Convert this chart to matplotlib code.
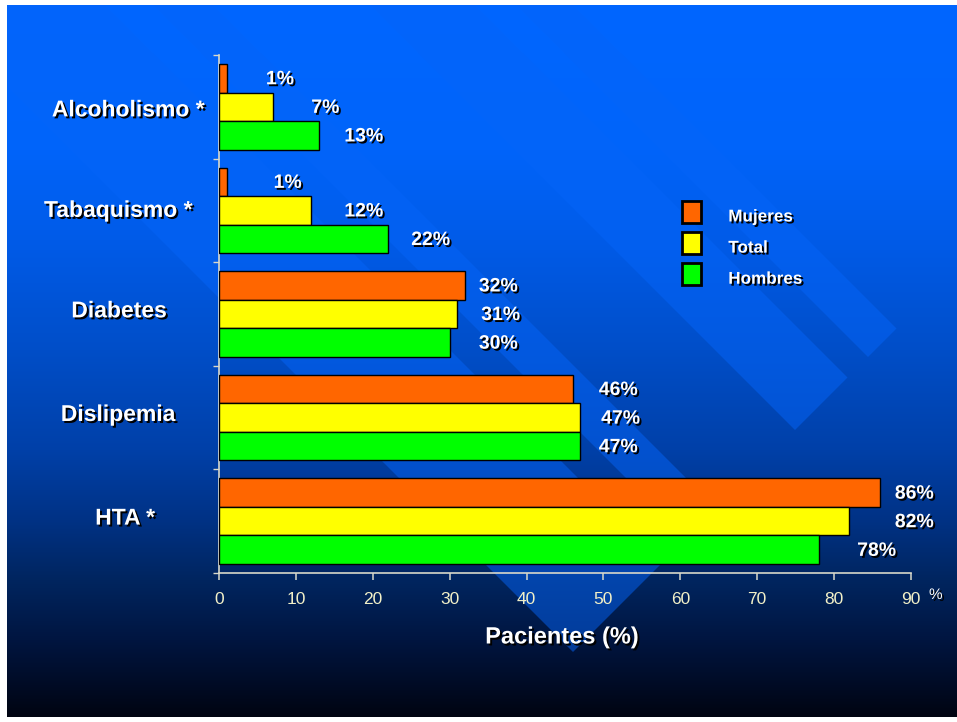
import numpy as np
import matplotlib
matplotlib.use("Agg")
import matplotlib.pyplot as plt
from matplotlib import patheffects as pe
from matplotlib import transforms as mtransforms
from matplotlib import font_manager as fm
from matplotlib.patches import Patch

# ---- data -------------------------------------------------------------
categories = ["Alcoholismo *", "Tabaquismo *", "Diabetes", "Dislipemia", "HTA *"]
series_names = ["Mujeres", "Total", "Hombres"]
mujeres = [1, 1, 32, 46, 86]
total = [7, 12, 31, 47, 82]
hombres = [13, 22, 30, 47, 78]
x_ticks = [0, 10, 20, 30, 40, 50, 60, 70, 80, 90]
x_label = "Pacientes (%)"
unit_label = "%"

# ---- styling ------------------------------------------------------------
bar_colors = ["#FF6600", "#FFFF00", "#00FF00"]
# horizontal gap between bar end and its value label (data units)
label_gap = [
    [5.1, 5.0, 3.3],
    [6.1, 4.3, 3.0],
    [1.8, 3.1, 3.8],
    [3.4, 2.7, 2.4],
    [1.9, 5.9, 5.0],
]
# category name anchors: x in figure pixels, y shift in category units
cat_x_px = [128, 118, 119, 118, 125]
cat_dy = [0.03, 0.0, -0.03, -0.03, -0.03]

plt.rcParams["font.family"] = ["Liberation Sans", "DejaVu Sans"]
available = {f.name for f in fm.fontManager.ttflist}
narrow_family = "Liberation Sans Narrow" if "Liberation Sans Narrow" in available else "Liberation Sans"

W, H, DPI = 957, 722, 100
fig = plt.figure(figsize=(W / DPI, H / DPI), dpi=DPI)
fig.patch.set_facecolor("white")


def hex_rgb(h):
    h = h.lstrip("#")
    return np.array([int(h[i:i + 2], 16) for i in (0, 2, 4)]) / 255.0


# ---- slide background: vertical blue gradient with diagonal bands ------
stops = [(5, "#0066ff"), (150, "#0064fa"), (250, "#005ae6"), (350, "#004ec8"),
         (450, "#0040a8"), (520, "#003285"), (580, "#00255f"), (640, "#001540"),
         (690, "#000a22"), (717, "#000410")]
sy = np.array([s[0] for s in stops], dtype=float)
sc = np.array([hex_rgb(s[1]) for s in stops])
rows = np.arange(H) + 0.5
grad = np.stack([np.interp(rows, sy, sc[:, k]) for k in range(3)], axis=1)

Xg, Yg = np.meshgrid(np.arange(W) + 0.5, np.arange(H) + 0.5)
base = np.repeat(grad[:, None, :], W, axis=1)
diag = Xg - Yg
cap = np.clip(1225 - (Xg + Yg) + 0.5, 0, 1)
band_mask = np.zeros((H, W))
for lo, hi in [(-79, 100), (148, 208), (365, 470), (511, 568)]:
    m = np.clip(diag - lo + 0.5, 0, 1) * np.clip(hi - diag + 0.5, 0, 1)
    band_mask = np.maximum(band_mask, m)
band_mask *= cap
band_col = hex_rgb("#0464f8")
alpha = 0.5 * band_mask[..., None]
base = base * (1 - alpha) + band_col * alpha

img = np.ones((H, W, 3))
img[5:717, 7:] = base[5:717, 7:]

bg = fig.add_axes([0, 0, 1, 1], zorder=0)
bg.imshow(img, extent=(0, W, H, 0), interpolation="nearest", aspect="auto")
bg.set_xlim(0, W)
bg.set_ylim(H, 0)
bg.set_axis_off()

# ---- chart ---------------------------------------------------------------
shadow = [pe.SimplePatchShadow(offset=(1.4, -1.4), shadow_rgbFace="black", alpha=1.0),
          pe.Normal()]
axis_color = "#D8D8CA"
tick_text = "#F2F0C8"

ax = fig.add_axes([219 / W, 1 - 573 / H, 692 / W, 518 / H], zorder=1)
ax.set_facecolor("none")

pos = np.arange(len(categories))
bar_h = 0.276
offsets = [-bar_h, 0.0, bar_h]
series = [mujeres, total, hombres]

for j, (vals, col, name) in enumerate(zip(series, bar_colors, series_names)):
    ax.barh(pos + offsets[j], vals, height=bar_h, color=col,
            edgecolor="black", linewidth=1.0, label=name, zorder=3)
    for i, v in enumerate(vals):
        ax.text(v + label_gap[i][j], pos[i] + offsets[j] + 0.015, f"{v}%",
                ha="left", va="center", fontsize=14, fontweight="bold",
                color="white", path_effects=shadow, clip_on=False, zorder=4)

ax.set_xlim(0, 90)
ax.set_ylim(len(categories) - 0.5, -0.5)

for side in ("top", "right"):
    ax.spines[side].set_visible(False)
for side in ("left", "bottom"):
    ax.spines[side].set_color(axis_color)
    ax.spines[side].set_linewidth(1.2)

ax.set_xticks(x_ticks)
ax.set_xticklabels([str(t) for t in x_ticks], family=narrow_family,
                   fontsize=12.5, color=tick_text)
ax.tick_params(axis="x", direction="out", length=5, width=1.1,
               color=axis_color, pad=9)
ax.set_yticks(np.arange(-0.5, len(categories), 1.0))
ax.set_yticklabels([])
ax.tick_params(axis="y", direction="out", length=4, width=1.0, color=axis_color)

# category names
cat_tr = mtransforms.blended_transform_factory(fig.transFigure, ax.transData)
for i, name in enumerate(categories):
    ax.text(cat_x_px[i] / W, pos[i] + cat_dy[i], name, transform=cat_tr,
            ha="center", va="center", fontsize=16.5, fontweight="bold",
            color="white", path_effects=shadow, clip_on=False)

# axis title and unit
ax.set_xlabel(x_label, fontsize=17, fontweight="bold", color="white",
              path_effects=shadow)
ax.xaxis.set_label_coords((562 - 219) / 692, (573 - 637) / 518)
ax.xaxis.label.set_va("center")
fig.text(929 / W, 1 - 595 / H, unit_label, ha="left", va="center",
         fontsize=11, color="white", path_effects=shadow)

# legend
handles = [Patch(facecolor=c, edgecolor="black", linewidth=2.0) for c in bar_colors]
leg = ax.legend(handles, series_names, loc="upper left",
                bbox_to_anchor=(682 / W, 1 - 201 / H), bbox_transform=fig.transFigure,
                frameon=False, fontsize=12.3, handlelength=1.11, handleheight=1.58,
                labelspacing=0.55, handletextpad=1.6, borderpad=0, borderaxespad=0)
text_drop = mtransforms.ScaledTranslation(0, -4 / DPI, fig.dpi_scale_trans)
for t in leg.get_texts():
    t.set_color("white")
    t.set_fontweight("bold")
    t.set_path_effects(shadow)
    t.set_transform(t.get_transform() + text_drop)

fig.savefig("out.png", dpi=DPI)
